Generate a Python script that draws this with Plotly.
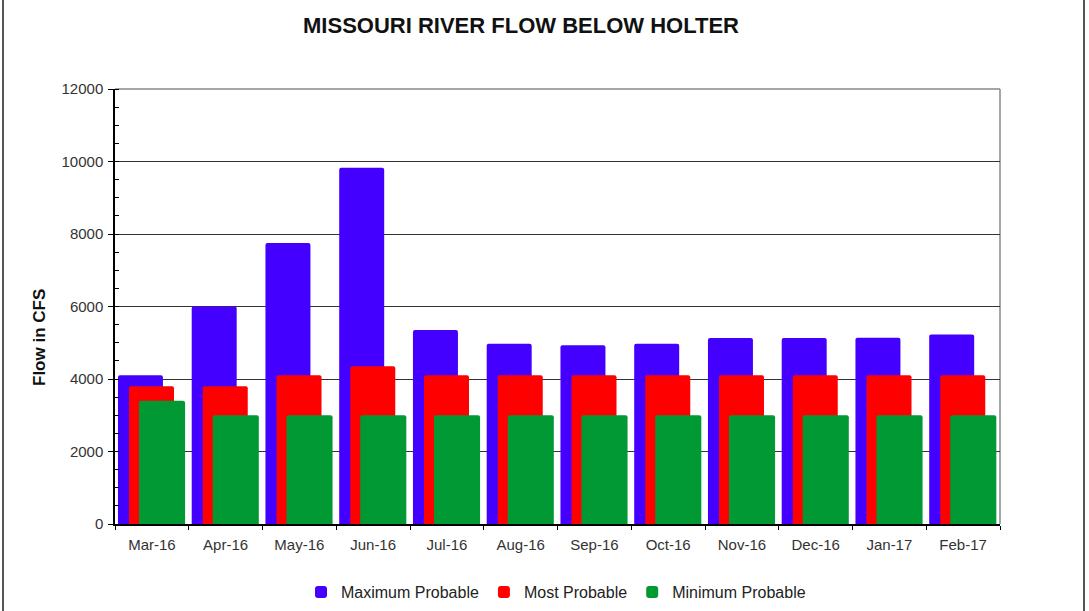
import plotly.graph_objects as go

months = ["Mar-16", "Apr-16", "May-16", "Jun-16", "Jul-16", "Aug-16",
          "Sep-16", "Oct-16", "Nov-16", "Dec-16", "Jan-17", "Feb-17"]
max_prob = [4100, 6000, 7750, 9830, 5350, 4970, 4930, 4970, 5130, 5130, 5140, 5230]
most_prob = [3800, 3800, 4100, 4350, 4100, 4100, 4100, 4100, 4100, 4100, 4100, 4100]
min_prob = [3400, 3000, 3000, 3000, 3000, 3000, 3000, 3000, 3000, 3000, 3000, 3000]

series = [
    ("Maximum Probable", max_prob, "#4400FF", -0.46, 0.61),
    ("Most Probable", most_prob, "#FF0000", -0.31, 0.61),
    ("Minimum Probable", min_prob, "#009933", -0.175, 0.625),
]

fig = go.Figure()
for name, vals, color, off, w in series:
    fig.add_trace(go.Bar(
        x=months, y=vals, name=name, offset=off, width=w,
        marker=dict(color=color, line=dict(width=0), cornerradius=2),
    ))

W, H = 1089, 611
L, R, T, B = 115, 89, 89, 87
pw, ph = W - L - R, H - T - B

fig.update_layout(
    width=W, height=H,
    margin=dict(l=L, r=R, t=T, b=B, autoexpand=False),
    paper_bgcolor="white", plot_bgcolor="white",
    barmode="overlay",
    font=dict(family="Liberation Sans, Arial, sans-serif", color="#222"),
    title=dict(text="<b>MISSOURI RIVER FLOW BELOW HOLTER</b>",
               x=521 / W, xanchor="center", y=1 - 25 / H, yanchor="middle",
               font=dict(size=22, color="#111")),
    legend=dict(orientation="h", xref="container", yref="container",
                x=556 / W, xanchor="center",
                y=1 - 592 / H, yanchor="middle",
                font=dict(size=16, color="#222"), itemwidth=30,
                traceorder="normal"),
    showlegend=True,
)

fig.update_xaxes(
    type="category", tickson="boundaries", ticks="outside", ticklen=4,
    tickcolor="#000", showline=True, linecolor="#000", linewidth=1.5,
    showgrid=False, tickfont=dict(size=15, color="#333"),
    ticklabelstandoff=6,
    range=[-0.5, 11.5],
)
fig.update_yaxes(
    range=[0, 12000], dtick=2000, tickformat="d",
    ticks="outside", ticklen=5, tickcolor="#000",
    showline=True, linecolor="#000", linewidth=1.5,
    showgrid=True, gridcolor="#333", gridwidth=1,
    tickfont=dict(size=15, color="#333"),
    ticklabelstandoff=2,
    minor=dict(dtick=500, ticks="inside", ticklen=4, tickcolor="#000", showgrid=False),
    zeroline=False,
)

# y axis title (placed like the original, below plot centre)
fig.add_annotation(text="<b>Flow in CFS</b>", textangle=-90, showarrow=False,
                   xref="paper", yref="paper",
                   x=(39 - L) / pw, y=(H - B - 338) / ph,
                   xanchor="center", yanchor="middle",
                   font=dict(size=17, color="#111"))

# plot frame (right and top) in gray
fig.add_shape(type="line", xref="paper", yref="paper", x0=1, x1=1, y0=0, y1=1,
              line=dict(color="#888", width=1.5), layer="below")
fig.add_shape(type="line", xref="paper", yref="paper", x0=0, x1=1, y0=1, y1=1,
              line=dict(color="#888", width=1.5), layer="below")

# outer page lines
for px in (3, 1084):
    xx = (px - L) / pw
    fig.add_shape(type="line", xref="paper", yref="paper", x0=xx, x1=xx,
                  y0=-(B + 5) / ph, y1=(ph + T + 5) / ph,
                  line=dict(color="#555", width=2))

fig.write_html("out.html")
